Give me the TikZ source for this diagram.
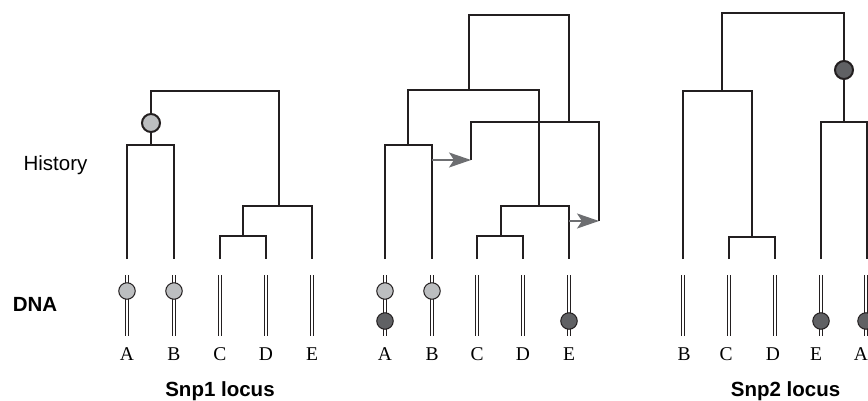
\documentclass[tikz,border=0pt]{standalone}
\usepackage{fontspec}
\setmainfont{Liberation Serif}
\setsansfont{Liberation Sans}
\usepackage{xcolor}
\usetikzlibrary{arrows.meta, positioning}

\definecolor{treeline}{HTML}{231F20}
\definecolor{snplight}{HTML}{BCBEC0}
\definecolor{snpdark}{HTML}{606164}
\definecolor{movegray}{HTML}{6D6E71}

\tikzset{
  branch/.style={draw=treeline, line width=2.5pt, line join=miter},
  strand/.style={draw=treeline, line width=0.8pt},
  snpdot/.style={circle, draw=treeline, line width=1pt, minimum size=16.5pt, inner sep=0pt},
  lightsnp/.style={snpdot, fill=snplight},
  darksnp/.style={snpdot, fill=snpdark},
  moved/.style={draw=movegray, line width=1.8pt,
    -{Stealth[length=22pt, width=15pt, inset=5pt, fill=movegray]}},
  leafname/.style={font=\fontsize{19.5}{20}\selectfont, anchor=base, inner sep=0pt},
  sidelabel/.style={font=\sffamily\fontsize{20.5}{22}\selectfont, anchor=base, inner sep=0pt},
  boldlabel/.style={sidelabel, font=\sffamily\bfseries\fontsize{20.5}{22}\selectfont},
}

\begin{document}
\begin{tikzpicture}[x=1pt, y=-1pt]

    % =================================================================
    % 0. KHUNG HINH (868 x 400)
    % =================================================================
    \clip (0,0) rectangle (868,400);

    % =================================================================
    % 1. NHAN BEN TRAI
    % =================================================================
    \node[sidelabel] (history) at (55.5,170) {History};
    \node[boldlabel] (dnalabel) at (35,311) {DNA};

    % =================================================================
    % 2. CAY THU NHAT (Snp1 locus)
    % =================================================================
    \coordinate (a1) at (127,259);
    \coordinate (b1) at (174,259);
    \coordinate (c1) at (220,259);
    \coordinate (d1) at (266,259);
    \coordinate (e1) at (312,259);
    \coordinate (ab1) at (151,145);
    \coordinate (cd1) at (243,236);
    \coordinate (cde1) at (279,206);
    \coordinate (root1) at (215,91);

    \draw[branch] (a1) |- (ab1) -| (b1);
    \draw[branch] (c1) |- (cd1) -| (d1);
    \draw[branch] (cd1) |- (cde1) -| (e1);
    \draw[branch] (ab1) |- (root1) -| (cde1);
    \node[lightsnp, line width=2pt, minimum size=18pt] (mut1) at (151,123) {};

    \foreach \n/\x in {A/127, B/174, C/220, D/266, E/312} {
      \draw[strand] (\x-1.2,275) -- (\x-1.2,336);
      \draw[strand] (\x+1.2,275) -- (\x+1.2,336);
      \node[leafname] (leafone\n) at (\x,360) {\n};
    }
    \node[lightsnp] (snpa1) at (127,291) {};
    \node[lightsnp] (snpb1) at (174,291) {};

    \node[boldlabel] (locus1) at (220,396) {Snp1 locus};

    % =================================================================
    % 3. CAY THU HAI (tai to hop)
    % =================================================================
    \coordinate (a2) at (385,259);
    \coordinate (b2) at (432,259);
    \coordinate (c2) at (477,259);
    \coordinate (d2) at (523,259);
    \coordinate (e2) at (569,259);
    \coordinate (ab2) at (408,145);
    \coordinate (cd2) at (501,236);
    \coordinate (cde2) at (539,206);
    \coordinate (abcde2) at (469,90);
    \coordinate (root2) at (519,15);
    \coordinate (rec2) at (569,122);
    \coordinate (recl2) at (471,160);
    \coordinate (recr2) at (599,221);
    \coordinate (brk1) at (432,160);
    \coordinate (brk2) at (569,221);

    \draw[branch] (a2) |- (ab2) -| (b2);
    \draw[branch] (c2) |- (cd2) -| (d2);
    \draw[branch] (cd2) |- (cde2) -| (e2);
    \draw[branch] (ab2) |- (abcde2) -| (cde2);
    \draw[branch] (recl2) |- (rec2) -| (recr2);
    \draw[branch] (abcde2) |- (root2) -| (rec2);

    % mui ten xam
    \draw[moved] (brk1) -- (recl2);
    \draw[moved] (brk2) -- (recr2);

    \foreach \n/\x in {A/385, B/432, C/477, D/523, E/569} {
      \draw[strand] (\x-1.2,275) -- (\x-1.2,336);
      \draw[strand] (\x+1.2,275) -- (\x+1.2,336);
      \node[leafname] (leaftwo\n) at (\x,360) {\n};
    }
    \node[lightsnp] (snpa2) at (385,291) {};
    \node[darksnp] (snpa2b) at (385,321) {};
    \node[lightsnp] (snpb2) at (432,291) {};
    \node[darksnp] (snpe2) at (569,321) {};

    % =================================================================
    % 4. CAY THU BA (Snp2 locus)
    % =================================================================
    \coordinate (b3) at (683,259);
    \coordinate (c3) at (729,259);
    \coordinate (d3) at (775,259);
    \coordinate (e3) at (821,259);
    \coordinate (a3) at (867,259);
    \coordinate (cd3) at (752,237);
    \coordinate (bcd3) at (722,91);
    \coordinate (ea3) at (844,122);
    \coordinate (root3) at (783,13);

    \draw[branch] (c3) |- (cd3) -| (d3);
    \draw[branch] (b3) |- (bcd3) -| (cd3);
    \draw[branch] (e3) |- (ea3) -| (a3);
    \draw[branch] (bcd3) |- (root3) -| (ea3);
    \node[darksnp, line width=2pt, minimum size=18pt] (mut3) at (844,70) {};

    \foreach \n/\x/\lx in {B/683/684, C/729/726, D/775/773, E/821/816, A/866/861} {
      \draw[strand] (\x-1.2,275) -- (\x-1.2,336);
      \draw[strand] (\x+1.2,275) -- (\x+1.2,336);
      \node[leafname] (leafthree\n) at (\lx,360) {\n};
    }
    \node[darksnp] (snpe3) at (821,321) {};
    \node[darksnp] (snpa3) at (866,321) {};

    \node[boldlabel] (locus2) at (785.5,396) {Snp2 locus};

\end{tikzpicture}
\end{document}
